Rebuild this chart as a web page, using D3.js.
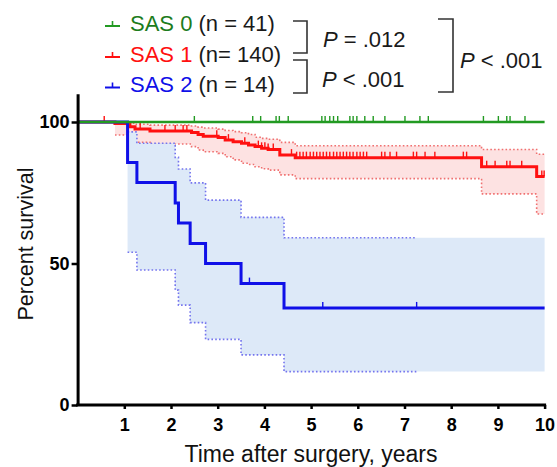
<!DOCTYPE html>
<html>
<head>
<meta charset="utf-8">
<script src="https://cdn.jsdelivr.net/npm/d3@7"></script>
<style>
  body { margin: 0; background: #fff; }
  svg { display: block; font-family: "Liberation Sans", Arial, sans-serif; }
</style>
</head>
<body>
<div id="chart"></div>
<script>
// Kaplan-Meier data (years, percent survival)
const sas0Time = [0, 10];
const sas0Surv = [100, 100];
const sas0Censor = [2.50, 3.75, 3.92, 4.25, 4.32, 4.51, 5.23, 5.30, 5.40, 5.48, 5.57,
  5.83, 5.90, 5.98, 6.15, 6.33, 6.58, 7.01, 7.33, 7.51, 8.69, 9.01, 9.19, 9.26, 9.58];

const sas1Time = [0, 0.80, 1.12, 1.23, 1.55, 2.44, 2.58, 2.69, 3.01, 3.16, 3.33, 3.51,
  3.66, 3.80, 3.94, 4.08, 4.33, 4.66, 8.65, 9.83, 10];
const sas1Surv = [100, 99.5, 98.3, 97.5, 96.8, 96.3, 95.6, 95.0, 94.5, 93.6, 93.0, 92.5,
  91.9, 91.3, 90.7, 90.3, 88.3, 87.4, 84.2, 80.7, 80.7];
const sas1Upper = [100, 100, 99.6, 99.2, 98.9, 98.6, 98.2, 97.9, 97.5, 97.0, 96.6, 96.2,
  95.6, 94.6, 94.2, 93.9, 92.8, 91.6, 90.3, 88.6, 88.6];
const sas1Lower = [100, 95.4, 94.0, 92.8, 92.2, 91.3, 90.1, 89.5, 88.9, 87.7, 86.6, 85.4,
  85.0, 84.2, 83.5, 83.0, 81.3, 80.0, 74.6, 67.5, 67.5];
const sas1Censor = [0.57, 1.34, 1.87, 2.09, 2.26, 2.34, 2.98, 3.23, 3.58, 3.87, 3.94, 4.01,
  4.08, 4.19, 4.58, 4.69, 4.76, 4.83, 4.90, 4.98, 5.05, 5.12, 5.19, 5.26, 5.33, 5.40,
  5.48, 5.55, 5.62, 5.69, 5.76, 5.83, 5.90, 5.98, 6.05, 6.12, 6.19, 6.51, 6.58, 6.69,
  6.83, 7.19, 7.26, 7.44, 7.65, 8.26, 8.33, 8.76, 8.94, 9.19, 9.26, 9.51, 9.94, 9.99];

const sas2Time = [0, 1.07, 1.27, 2.09, 2.16, 2.41, 2.74, 3.50, 4.42, 10];
const sas2Surv = [100, 85.7, 78.6, 71.4, 64.3, 57.1, 50.0, 42.9, 34.3, 34.3];
const sas2Upper = [100, 96.5, 92.5, 87.5, 83.4, 78.5, 72.4, 66.3, 59.1, 59.1];
const sas2Lower = [100, 54.0, 47.7, 40.6, 35.3, 29.1, 23.2, 17.7, 11.8, 11.8];
const sas2Censor = [3.68, 5.25, 7.26];
const sas2CiEnd = 7.26; // dotted CI lines stop at last censored subject

const xTicks = [1, 2, 3, 4, 5, 6, 7, 8, 9, 10];
const yTicks = [0, 50, 100];

const legendNames = ["SAS 0", "SAS 1", "SAS 2"];
const legendCounts = ["(n = 41)", "(n= 140)", "(n = 14)"];
const pLabels = [" = .012", " < .001", " < .001"];

// Chart dimensions
const width = 557, height = 467;
const colors = { line: ["#229a22", "#ff1010", "#1010e8"], text: ["#1c7c1c", "#ff1010", "#1010e8"] };
const fills = ["none", "#fde2e2", "#dde9f8"];
const dots = ["none", "#f07070", "#7474ee"];

const svg = d3.select("#chart").append("svg")
  .attr("width", width)
  .attr("height", height);

const x = d3.scaleLinear().domain([0, 10]).range([77.6, 544.6]);
const y = d3.scaleLinear().domain([0, 110]).range([405, 93.7]);

const toPts = (t, v) => t.map((d, i) => ({ t: d, v: v[i] }));
function stepValue(t, times, vals) {
  let v = vals[0];
  times.forEach((tt, i) => { if (tt <= t) v = vals[i]; });
  return v;
}

const lineGen = d3.line().curve(d3.curveStepAfter).x(d => x(d.t)).y(d => y(d.v));
const areaGen = d3.area().curve(d3.curveStepAfter)
  .x(d => x(d.t)).y0(d => y(d.lo)).y1(d => y(d.hi));

// confidence bands (start at first event)
const bands = [
  { idx: 1, t: sas1Time, up: sas1Upper, lo: sas1Lower, end: 10 },
  { idx: 2, t: sas2Time, up: sas2Upper, lo: sas2Lower, end: sas2CiEnd }
];
bands.forEach(b => {
  const pts = b.t.map((t, i) => ({ t, hi: b.up[i], lo: b.lo[i] })).slice(1);
  svg.append("path").attr("d", areaGen(pts)).attr("fill", fills[b.idx]);
  const cut = pts.filter(p => p.t < b.end).concat([{ t: b.end, hi: stepValue(b.end, b.t, b.up), lo: stepValue(b.end, b.t, b.lo) }]);
  ["hi", "lo"].forEach(k => {
    svg.append("path")
      .attr("d", lineGen(cut.map(p => ({ t: p.t, v: p[k] }))))
      .attr("fill", "none")
      .attr("stroke", dots[b.idx])
      .attr("stroke-width", 1.6)
      .attr("stroke-dasharray", "1.6,2.2");
  });
});

// survival curves
const series = [
  { t: sas0Time, s: sas0Surv, c: sas0Censor, w: 2.6 },
  { t: sas1Time, s: sas1Surv, c: sas1Censor, w: 3 },
  { t: sas2Time, s: sas2Surv, c: sas2Censor, w: 3 }
];
[1, 2, 0].forEach(i => {
  const s = series[i];
  svg.append("path")
    .attr("d", lineGen(toPts(s.t, s.s)))
    .attr("fill", "none")
    .attr("stroke", colors.line[i])
    .attr("stroke-width", s.w);
  svg.append("g").selectAll("line")
    .data(s.c)
    .join("line")
      .attr("x1", d => x(d)).attr("x2", d => x(d))
      .attr("y1", d => y(stepValue(d, s.t, s.s)))
      .attr("y2", d => y(stepValue(d, s.t, s.s)) - 6)
      .attr("stroke", colors.line[i])
      .attr("stroke-width", 1.4);
});

// axes
const xAxis = d3.axisBottom(x).tickValues(xTicks).tickSize(4).tickPadding(9).tickSizeOuter(0);
const yAxis = d3.axisLeft(y).tickValues(yTicks).tickSize(6).tickPadding(2).tickSizeOuter(0);

const gx = svg.append("g").attr("transform", `translate(0,${y(0)})`).call(xAxis);
const gy = svg.append("g").attr("transform", `translate(${x(0)},0)`).call(yAxis);
[gx, gy].forEach(g => {
  g.select(".domain").attr("stroke", "#000").attr("stroke-width", 3);
  g.selectAll(".tick line").attr("stroke", "#000").attr("stroke-width", 2.5);
  g.selectAll(".tick text")
    .attr("fill", "#000")
    .style("font-size", "18px")
    .style("font-weight", "bold")
    .style("font-family", "'Liberation Sans', Arial, sans-serif");
});
gx.select(".domain").attr("d", `M${x(0) - 1.5},0H${x(10) + 1.5}`);

svg.append("text")
  .attr("transform", `translate(33,${244}) rotate(-90)`)
  .attr("text-anchor", "middle")
  .style("font-size", "21.5px")
  .attr("fill", "#111")
  .text("Percent survival");

svg.append("text")
  .attr("x", 311).attr("y", 462)
  .attr("text-anchor", "middle")
  .style("font-size", "23px")
  .attr("fill", "#111")
  .text("Time after surgery, years");

// legend
const legendY = [30.5, 61.5, 92];
legendNames.forEach((name, i) => {
  const ly = legendY[i];
  const sy = ly - 4.5;
  svg.append("line").attr("x1", 105).attr("x2", 120).attr("y1", sy).attr("y2", sy)
    .attr("stroke", colors.line[i]).attr("stroke-width", 2);
  svg.append("line").attr("x1", 112.5).attr("x2", 112.5).attr("y1", sy).attr("y2", sy - 5)
    .attr("stroke", colors.line[i]).attr("stroke-width", 1.6);
  const t = svg.append("text").attr("x", 130).attr("y", ly).style("font-size", "22px");
  t.append("tspan").attr("fill", colors.text[i]).text(name + " ");
  t.append("tspan").attr("fill", "#1a1a1a").text(legendCounts[i]);
});

// comparison brackets
const brackets = [
  { x0: 293, x1: 307, y0: 21, y1: 53, tx: 323, ty: 47 },
  { x0: 293, x1: 307, y0: 60, y1: 93, tx: 322, ty: 87 },
  { x0: 438, x1: 453, y0: 19, y1: 92, tx: 460, ty: 68 }
];
brackets.forEach((b, i) => {
  svg.append("path")
    .attr("d", `M${b.x0},${b.y0}H${b.x1}V${b.y1}H${b.x0}`)
    .attr("fill", "none").attr("stroke", "#333").attr("stroke-width", 1.6);
  const t = svg.append("text").attr("x", b.tx).attr("y", b.ty)
    .style("font-size", "22px").attr("fill", "#1a1a1a");
  t.append("tspan").style("font-style", "italic").text("P");
  t.append("tspan").text(pLabels[i]);
});
</script>
</body>
</html>
